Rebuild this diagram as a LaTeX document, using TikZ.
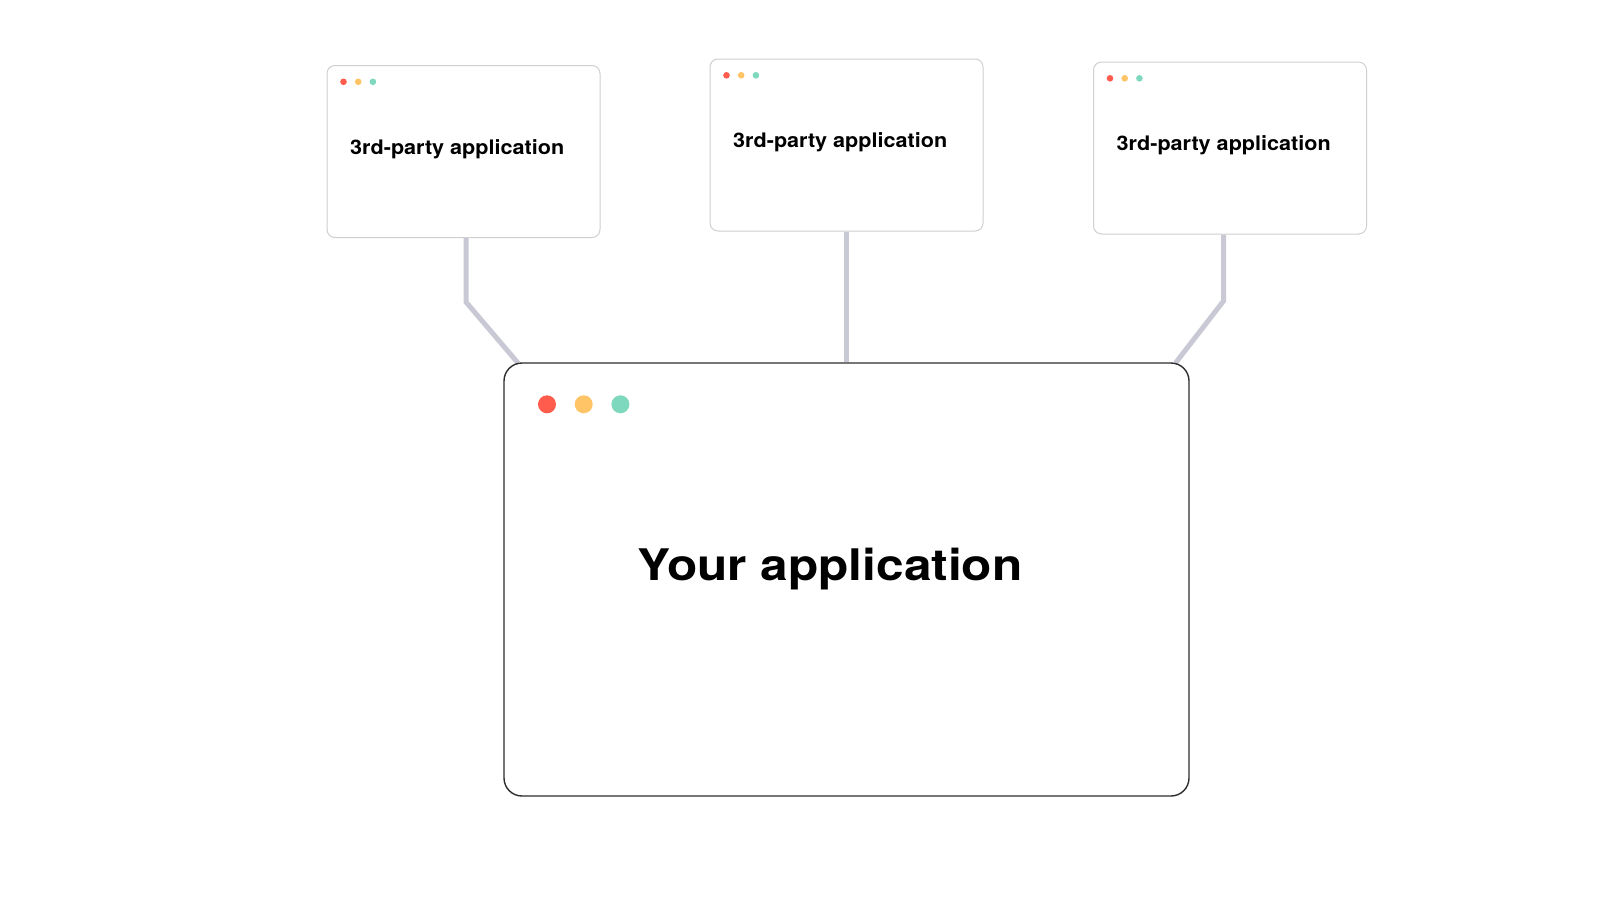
\documentclass[tikz,border=0pt]{standalone}
\usepackage{fontspec}
\setmainfont{TeX Gyre Heros}
\newfontfamily\smallf[FakeStretch=1.08]{TeX Gyre Heros}
\newfontfamily\bigf[FakeStretch=1.14]{TeX Gyre Heros}
\usetikzlibrary{backgrounds}
\definecolor{dotred}{HTML}{FF5C4D}
\definecolor{dotyellow}{HTML}{FFC466}
\definecolor{dotgreen}{HTML}{7ED8BE}
\definecolor{connc}{HTML}{C9C9D6}
\definecolor{smallborder}{HTML}{CFCFD4}
\definecolor{bigborder}{HTML}{2E2E2E}
\tikzset{
  smallbox/.style={draw=smallborder, line width=1pt, fill=white, rounded corners=8pt,
    minimum width=273pt, minimum height=172pt, inner sep=0pt},
  bigbox/.style={draw=bigborder, line width=1.4pt, fill=white, rounded corners=18pt,
    minimum width=685pt, minimum height=433pt, inner sep=0pt},
  conn/.style={draw=connc, line width=5pt},
  smalltext/.style={inner sep=0pt, anchor=base west, font=\smallf\bfseries\fontsize{20}{24}\selectfont, text=black},
  bigtext/.style={inner sep=0pt, anchor=base west, font=\bigf\bfseries\fontsize{43.5}{50}\selectfont, text=black},
  sdot/.style={circle, inner sep=0pt, minimum size=6.6pt},
  bdot/.style={circle, inner sep=0pt, minimum size=18pt},
}
\begin{document}
\begin{tikzpicture}[x=1pt,y=-1pt]
\begin{scope}[on background layer]
\fill[white] (0,0) rectangle (1600,900);
\end{scope}
\useasboundingbox (0,0) rectangle (1600,900);

% small boxes
\node[smallbox] (s1) at (463.5,151.5) {};
\node[smallbox] (s2) at (846.5,145) {};
\node[smallbox] (s3) at (1230,148) {};
% big box
\node[bigbox] (big) at (846.5,579.5) {};

% dots and labels of the small boxes
\foreach \b in {s1,s2,s3}{
  \node[sdot, fill=dotred]    (\b r) at ([xshift=17pt,yshift=-16.8pt]\b.north west) {};
  \node[sdot, fill=dotyellow] (\b y) at ([xshift=31.7pt,yshift=-16.8pt]\b.north west) {};
  \node[sdot, fill=dotgreen]  (\b g) at ([xshift=46.4pt,yshift=-16.8pt]\b.north west) {};
  \node[smalltext] (\b t) at ([xshift=23.5pt,yshift=-89pt]\b.north west) {3rd-party application};
}
% dots big
\node[bdot, fill=dotred]    (br) at ([xshift=43.7pt,yshift=-42pt]big.north west) {};
\node[bdot, fill=dotyellow] (by) at ([xshift=80.4pt,yshift=-42pt]big.north west) {};
\node[bdot, fill=dotgreen]  (bg) at ([xshift=117.1pt,yshift=-42pt]big.north west) {};
\node[bigtext] (bt) at ([xshift=134pt,yshift=-218.5pt]big.north west) {Your application};

% connectors
\coordinate (k1) at (466,302);
\coordinate (e1) at (518,363);
\coordinate (k3) at (1223.5,301);
\coordinate (e3) at (1175.5,363);
\begin{scope}[on background layer]
\draw[conn] (s1.south -| k1) -- (k1) -- (e1);
\draw[conn] (s2.south) -- (big.north);
\draw[conn] (s3.south -| k3) -- (k3) -- (e3);
\end{scope}
\end{tikzpicture}
\end{document}
